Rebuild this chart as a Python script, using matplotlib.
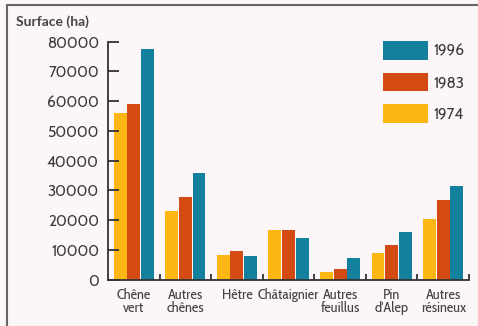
import matplotlib
matplotlib.use("Agg")
import matplotlib.pyplot as plt
from matplotlib.patches import Patch
from matplotlib.lines import Line2D
import numpy as np

categories = ["Chêne\nvert", "Autres\nchênes", "Hêtre", "Châtaignier", "Autres\nfeuillus", "Pin\nd'Alep", "Autres\nrésineux"]
v1974 = [56000, 23000, 8200, 16700, 2600, 8800, 20200]
v1983 = [58900, 27800, 9600, 16700, 3700, 11600, 26700]
v1996 = [77500, 35900, 7900, 14000, 7400, 15900, 31500]
yticks = [0, 10000, 20000, 30000, 40000, 50000, 60000, 70000, 80000]

plt.rcParams["font.family"] = ["Cabin", "Lato", "DejaVu Sans"]
narrow = ["Cabin Condensed", "Asap Condensed", "Lato", "DejaVu Sans"]

c74, c83, c96 = "#fdb714", "#d34b12", "#13809e"
bg = "#fcf6f8"
txt = "#3a3a3a"

W, H = 478, 326
fig = plt.figure(figsize=(W/100, H/100), dpi=100, facecolor=bg)
ax = fig.add_axes([108/W, 1-279.5/H, 361/W, (279.5-41.7)/H], facecolor=bg)

x = np.arange(len(categories))
bw = 0.25
off = 0.265
ax.bar(x - off, v1974, bw, color=c74, label="1974")
ax.bar(x, v1983, bw, color=c83, label="1983")
ax.bar(x + off, v1996, bw, color=c96, label="1996")

ax.set_xlim(-0.5, len(categories) - 0.5)
ax.set_ylim(0, 80000)
for s in ["top", "right"]:
    ax.spines[s].set_visible(False)
for s in ["left", "bottom"]:
    ax.spines[s].set_color("#333333")
    ax.spines[s].set_linewidth(1.3)

ax.set_yticks(yticks)
ax.set_yticklabels([str(v) for v in yticks])
ax.tick_params(axis="y", direction="in", length=8, width=1.3, color="#333333",
               labelsize=11, labelcolor=txt, pad=6.5)
ax.set_xticks(np.arange(len(categories)) + 0.5)
ax.set_xticklabels([])
ax.tick_params(axis="x", direction="in", length=4, width=1.3, color="#333333")
ax.set_xticks(x, minor=True)
ax.set_xticklabels(categories, minor=True, fontsize=10.5, color="#444444", linespacing=0.95,
                   family=narrow)
ax.tick_params(axis="x", which="minor", length=0, pad=6)

fig.text(16/W, 1-22/H, "Surface (ha)", fontsize=10, fontweight="bold", color="#444444",
         ha="left", va="center", family=["Lato", "DejaVu Sans"])

handles = [Patch(facecolor=c96), Patch(facecolor=c83), Patch(facecolor=c74)]
fs = 11
u = fs * 100 / 72
fig.legend(handles, ["1996", "1983", "1974"], loc="upper left",
           bbox_to_anchor=(383/W, 1-41/H), bbox_transform=fig.transFigure,
           frameon=False, fontsize=fs, handlelength=45/u, handleheight=23/u,
           labelspacing=13/u, handletextpad=5/u, borderpad=0, borderaxespad=0,
           labelcolor=txt)

# frame
fig.add_artist(Line2D([7/W, 7/W], [0, 1-5/H], transform=fig.transFigure, color="#666666", lw=1.5))
fig.add_artist(Line2D([7/W, 1], [1-5/H, 1-5/H], transform=fig.transFigure, color="#666666", lw=1.5))

fig.savefig("out.png", dpi=100, facecolor=bg)
